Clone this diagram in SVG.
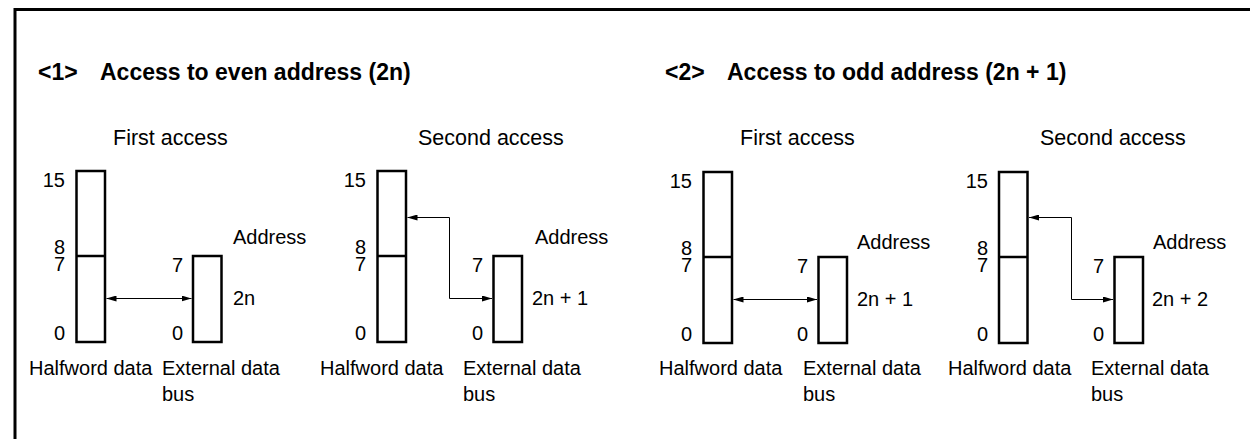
<svg xmlns="http://www.w3.org/2000/svg" width="1250" height="439" viewBox="0 0 1250 439">
<defs>
<style>
.t{font-family:"Liberation Sans",Arial,sans-serif;font-size:20px;fill:#000}
.h{font-family:"Liberation Sans",Arial,sans-serif;font-size:21.5px;fill:#000}
.b{font-family:"Liberation Sans",Arial,sans-serif;font-size:23px;font-weight:bold;fill:#000}
.r{text-anchor:end}
.box{fill:#fff;stroke:#000;stroke-width:2.5}
.sep{stroke:#000;stroke-width:2.5}
.con{fill:none;stroke:#000;stroke-width:1}
</style>
<marker id="ah" viewBox="0 0 10 6" refX="10" refY="3" markerWidth="10" markerHeight="6" markerUnits="userSpaceOnUse" orient="auto-start-reverse">
<path d="M0,0 L10,3 L0,6 Z" fill="#000"/>
</marker>
</defs>
<rect width="1250" height="439" fill="#fff"/>
<path d="M15,439 V9.5 H1250" fill="none" stroke="#000" stroke-width="3"/>

<g id="titles">
<text class="b" x="38" y="80">&lt;1&gt;</text>
<text class="b" x="100" y="80">Access to even address (2n)</text>
<text class="b" x="665" y="80">&lt;2&gt;</text>
<text class="b" x="727" y="80">Access to odd address (2n + 1)</text>
</g>

<g id="panel1">
<text class="h" x="113" y="145">First access</text>
<rect id="hw1" class="box" x="76.5" y="171" width="28.5" height="171"/>
<line class="sep" x1="76.5" y1="256" x2="105" y2="256"/>
<rect id="bus1" class="box" x="193" y="256" width="28.5" height="86"/>
<text class="t r" x="65" y="187">15</text>
<text class="t r" x="65" y="254">8</text>
<text class="t r" x="65" y="271">7</text>
<text class="t r" x="65" y="340">0</text>
<text class="t" x="172" y="272">7</text>
<text class="t" x="172" y="340">0</text>
<text class="t" x="233" y="244">Address</text>
<text class="t" x="233" y="305">2n</text>
<text class="t" x="29" y="375">Halfword data</text>
<text class="t" x="162" y="375">External data</text>
<text class="t" x="162" y="401">bus</text>
</g>

<g id="panel2">
<text class="h" x="418" y="145">Second access</text>
<rect id="hw2" class="box" x="377.5" y="171" width="28.5" height="171"/>
<line class="sep" x1="377.5" y1="256" x2="406" y2="256"/>
<rect id="bus2" class="box" x="493.5" y="256" width="28.5" height="86"/>
<text class="t r" x="366" y="187">15</text>
<text class="t r" x="366" y="254">8</text>
<text class="t r" x="366" y="271">7</text>
<text class="t r" x="366" y="340">0</text>
<text class="t" x="472" y="272">7</text>
<text class="t" x="472" y="340">0</text>
<text class="t" x="535" y="244">Address</text>
<text class="t" x="532" y="305">2n + 1</text>
<text class="t" x="320" y="375">Halfword data</text>
<text class="t" x="463" y="375">External data</text>
<text class="t" x="463" y="401">bus</text>
</g>

<g id="panel3">
<text class="h" x="740" y="145">First access</text>
<rect id="hw3" class="box" x="703.5" y="172" width="28.5" height="171"/>
<line class="sep" x1="703.5" y1="257" x2="732" y2="257"/>
<rect id="bus3" class="box" x="818.5" y="257" width="28.5" height="86"/>
<text class="t r" x="692" y="188">15</text>
<text class="t r" x="692" y="255">8</text>
<text class="t r" x="692" y="272">7</text>
<text class="t r" x="692" y="341">0</text>
<text class="t" x="797" y="273">7</text>
<text class="t" x="797" y="341">0</text>
<text class="t" x="857" y="249">Address</text>
<text class="t" x="857" y="306">2n + 1</text>
<text class="t" x="659" y="375">Halfword data</text>
<text class="t" x="803" y="375">External data</text>
<text class="t" x="803" y="401">bus</text>
</g>

<g id="panel4">
<text class="h" x="1040" y="145">Second access</text>
<rect id="hw4" class="box" x="999" y="172" width="28.5" height="171"/>
<line class="sep" x1="999" y1="257" x2="1027.5" y2="257"/>
<rect id="bus4" class="box" x="1114.5" y="257" width="28.5" height="86"/>
<text class="t r" x="988" y="188">15</text>
<text class="t r" x="988" y="255">8</text>
<text class="t r" x="988" y="272">7</text>
<text class="t r" x="988" y="341">0</text>
<text class="t" x="1093" y="273">7</text>
<text class="t" x="1093" y="341">0</text>
<text class="t" x="1153" y="249">Address</text>
<text class="t" x="1152" y="306">2n + 2</text>
<text class="t" x="948" y="375">Halfword data</text>
<text class="t" x="1091" y="375">External data</text>
<text class="t" x="1091" y="401">bus</text>
</g>

<g id="connectors">
<line class="con" x1="106.5" y1="298.5" x2="191.5" y2="298.5" marker-start="url(#ah)" marker-end="url(#ah)"/>
<path class="con" d="M407.5,217.5 H449.5 V298.5 H492" marker-start="url(#ah)" marker-end="url(#ah)"/>
<line class="con" x1="733.5" y1="299.5" x2="817" y2="299.5" marker-start="url(#ah)" marker-end="url(#ah)"/>
<path class="con" d="M1029,217.5 H1071.5 V299.5 H1113" marker-start="url(#ah)" marker-end="url(#ah)"/>
</g>
</svg>
